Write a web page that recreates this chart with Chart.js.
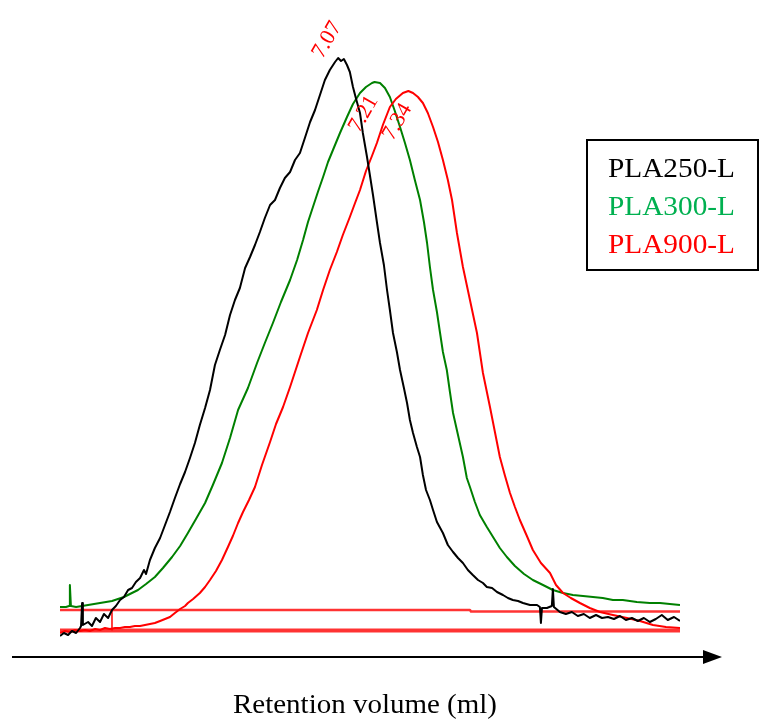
<!DOCTYPE html>
<html>
<head>
<meta charset="utf-8">
<title>GPC traces</title>
<script src="https://cdn.jsdelivr.net/npm/chart.js@4.4.1/dist/chart.umd.min.js"></script>
<style>
  html, body { margin: 0; padding: 0; background: #ffffff; }
  #wrap { width: 767px; height: 719px; }
</style>
</head>
<body>
<div id="wrap"><canvas id="gpc" width="767" height="719"></canvas></div>
<script>
// Retention volume (ml) and detector response (a.u.) for each sample
const blackVol = [6.000,6.015,6.031,6.046,6.062,6.077,6.081,6.085,6.088,6.108,6.123,6.138,6.154,6.169,6.185,6.200,6.215,6.231,6.246,6.262,6.277,6.292,6.308,6.323,6.331,6.346,6.365,6.385,6.404,6.423,6.442,6.462,6.481,6.500,6.519,6.538,6.558,6.577,6.596,6.615,6.635,6.654,6.673,6.692,6.712,6.731,6.750,6.769,6.788,6.808,6.827,6.846,6.865,6.885,6.904,6.923,6.942,6.962,6.981,7.000,7.019,7.038,7.058,7.070,7.081,7.092,7.104,7.115,7.127,7.138,7.154,7.165,7.181,7.192,7.204,7.219,7.231,7.246,7.258,7.269,7.281,7.296,7.308,7.323,7.335,7.346,7.358,7.373,7.385,7.396,7.408,7.423,7.435,7.450,7.473,7.492,7.512,7.531,7.550,7.569,7.588,7.608,7.627,7.642,7.662,7.681,7.704,7.723,7.742,7.762,7.781,7.808,7.835,7.846,7.850,7.854,7.873,7.892,7.896,7.900,7.923,7.946,7.969,7.992,8.015,8.038,8.062,8.085,8.108,8.131,8.154,8.177,8.200,8.223,8.246,8.269,8.292,8.315,8.338,8.362,8.385];
const blackResp = [4,7,5,9,7,12,14,37,15,18,14,22,18,26,22,30,34,40,43,50,52,58,62,70,66,80,92,102,115,128,142,156,168,182,197,215,232,250,275,290,305,325,340,352,372,383,395,408,422,435,440,452,462,468,480,487,502,518,530,545,560,570,578,582,579,581,575,568,553,542,527,507,483,465,445,418,397,375,350,330,307,288,270,252,237,220,207,193,183,165,150,140,130,118,107,95,88,82,77,70,65,60,57,53,52,48,45,42,40,39,37,35,35,33,17,32,32,34,51,33,28,26,28,24,26,22,25,22,23,21,24,20,22,19,22,18,21,25,20,23,19];

const greenVol = [6.000,6.023,6.035,6.038,6.042,6.062,6.085,6.108,6.131,6.154,6.177,6.200,6.223,6.246,6.269,6.300,6.331,6.365,6.396,6.431,6.462,6.492,6.523,6.558,6.588,6.623,6.654,6.685,6.723,6.758,6.788,6.819,6.850,6.885,6.912,6.935,6.954,6.973,6.992,7.012,7.031,7.050,7.077,7.104,7.127,7.154,7.177,7.200,7.210,7.231,7.250,7.269,7.288,7.308,7.327,7.346,7.365,7.385,7.400,7.412,7.423,7.435,7.450,7.462,7.473,7.488,7.500,7.512,7.531,7.550,7.565,7.577,7.596,7.615,7.642,7.673,7.692,7.719,7.750,7.785,7.819,7.858,7.896,7.935,7.973,8.012,8.050,8.088,8.127,8.165,8.219,8.269,8.308,8.346,8.385];
const greenResp = [33,33,34,55,34,33,34,35,36,37,38,39,41,43,46,50,56,63,72,83,94,107,121,137,155,177,202,230,252,277,297,317,338,360,380,400,418,433,448,463,478,490,507,523,536,547,553,557,558,557,552,543,529,513,497,480,460,440,418,397,373,350,328,307,288,270,248,227,205,183,162,153,138,125,113,100,92,83,74,66,60,55,50,47,45,44,43,42,40,40,38,37,37,36,35];

const redVol = [6.000,6.019,6.038,6.058,6.077,6.096,6.115,6.135,6.154,6.173,6.192,6.212,6.231,6.250,6.269,6.288,6.308,6.327,6.346,6.365,6.385,6.404,6.423,6.442,6.462,6.481,6.492,6.512,6.538,6.558,6.577,6.600,6.623,6.646,6.665,6.685,6.704,6.727,6.750,6.777,6.808,6.831,6.858,6.885,6.923,6.954,6.988,7.012,7.038,7.065,7.088,7.115,7.135,7.154,7.177,7.200,7.219,7.242,7.269,7.292,7.319,7.340,7.358,7.377,7.396,7.415,7.435,7.454,7.473,7.492,7.508,7.527,7.550,7.577,7.604,7.627,7.654,7.673,7.692,7.712,7.731,7.750,7.769,7.796,7.819,7.850,7.885,7.908,7.935,7.965,8.000,8.038,8.077,8.127,8.181,8.231,8.281,8.331,8.385];
const redResp = [7,9,8,10,9,10,9,11,10,12,11,12,12,13,13,14,14,15,16,17,19,21,23,27,31,34,37,41,47,53,60,69,80,93,104,117,128,140,153,175,198,216,233,253,283,307,330,350,370,388,405,423,437,450,469,484,497,515,533,541,547,549,547,543,537,527,513,498,480,460,440,407,373,340,307,267,233,208,183,164,147,133,120,104,90,77,67,55,47,42,37,32,28,25,22,19,15,13,12];

// Integration baselines set in the GPC software
const baseUpperVol = [6.000, 7.577, 7.581, 8.385];
const baseUpperResp = [30, 30, 28.5, 28.5];
const baseLowerVol = [6.000, 8.385];
const baseLowerResp = [9.5, 9.5];
const baseMarkVol = [6.200, 6.200];
const baseMarkResp = [9.5, 30];

// Peak retention volumes
const peakVol = [7.07, 7.21, 7.34];
const peakText = ['7.07', '7.21', '7.34'];

const sampleNames = ['PLA250-L', 'PLA300-L', 'PLA900-L'];

const pts = (xs, ys) => xs.map((x, i) => ({ x: x, y: ys[i] }));

const SERIF = '"Liberation Serif", "Times New Roman", Times, serif';

// Rotated peak labels, legend box, axis arrow and axis title
const decorations = {
  id: 'decorations',
  afterDatasetsDraw(chart, args, opts) {
    const ctx = chart.ctx;
    const xs = chart.scales.x, ys = chart.scales.y;

    // peak labels
    ctx.save();
    ctx.fillStyle = '#ff0000';
    ctx.font = '22px ' + SERIF;
    ctx.textAlign = 'center';
    ctx.textBaseline = 'middle';
    peakVol.forEach((v, i) => {
      const px = xs.getPixelForValue(v) + opts.labelDx;
      const py = ys.getPixelForValue(opts.labelHeights[i]);
      ctx.save();
      ctx.translate(px, py);
      ctx.rotate(-Math.PI / 3);
      ctx.fillText(peakText[i], 0, 0);
      ctx.restore();
    });
    ctx.restore();

    // legend box
    ctx.save();
    ctx.strokeStyle = '#000000';
    ctx.lineWidth = 2;
    ctx.strokeRect(587, 140, 171, 130);
    ctx.font = '28px ' + SERIF;
    ctx.textAlign = 'left';
    ctx.textBaseline = 'alphabetic';
    const legendColors = ['#000000', '#00b050', '#ff0000'];
    const rows = [177, 215, 253];
    sampleNames.forEach((name, i) => {
      ctx.save();
      ctx.fillStyle = legendColors[i];
      const w = ctx.measureText(name).width;
      ctx.translate(608, rows[i]);
      ctx.scale(127 / w, 1);
      ctx.fillText(name, 0, 0);
      ctx.restore();
    });
    ctx.restore();

    // axis arrow
    ctx.save();
    ctx.strokeStyle = '#000000';
    ctx.fillStyle = '#000000';
    ctx.lineWidth = 2;
    ctx.beginPath();
    ctx.moveTo(12, 657);
    ctx.lineTo(706, 657);
    ctx.stroke();
    ctx.beginPath();
    ctx.moveTo(703, 650);
    ctx.lineTo(722, 657);
    ctx.lineTo(703, 664);
    ctx.closePath();
    ctx.fill();

    // axis title
    ctx.font = '28px ' + SERIF;
    ctx.textAlign = 'left';
    ctx.textBaseline = 'alphabetic';
    const title = 'Retention volume (ml)';
    const tw = ctx.measureText(title).width;
    ctx.translate(233, 713);
    ctx.scale(264 / tw, 1);
    ctx.fillText(title, 0, 0);
    ctx.restore();
  }
};

const baseStyle = { borderColor: 'rgba(255,0,0,0.8)', pointRadius: 0, tension: 0, fill: false, order: 4 };

new Chart(document.getElementById('gpc'), {
  type: 'line',
  data: {
    datasets: [
      { label: sampleNames[0], data: pts(blackVol, blackResp), borderColor: '#000000', borderWidth: 2, order: 1 },
      { label: sampleNames[2], data: pts(redVol, redResp), borderColor: '#ff0000', borderWidth: 2, order: 2 },
      { label: sampleNames[1], data: pts(greenVol, greenResp), borderColor: '#008000', borderWidth: 2, order: 3 },
      Object.assign({ label: 'baseline-upper', data: pts(baseUpperVol, baseUpperResp), borderWidth: 2.5 }, baseStyle),
      Object.assign({ label: 'baseline-lower', data: pts(baseLowerVol, baseLowerResp), borderWidth: 4 }, baseStyle),
      Object.assign({ label: 'baseline-mark', data: pts(baseMarkVol, baseMarkResp), borderWidth: 1.5 }, baseStyle, { borderColor: '#ff0000' })
    ]
  },
  options: {
    responsive: false,
    animation: false,
    devicePixelRatio: 1,
    elements: { point: { radius: 0 }, line: { tension: 0, borderJoinStyle: 'round' } },
    layout: { padding: { left: 60, right: 87, top: 20, bottom: 79 } },
    scales: {
      x: { type: 'linear', min: 6.0, max: 8.385, display: false },
      y: { type: 'linear', min: 0, max: 620, display: false }
    },
    plugins: {
      legend: { display: false },
      tooltip: { enabled: false },
      decorations: { labelDx: -11, labelHeights: [600, 526, 518] }
    }
  },
  plugins: [decorations]
});
</script>
</body>
</html>
